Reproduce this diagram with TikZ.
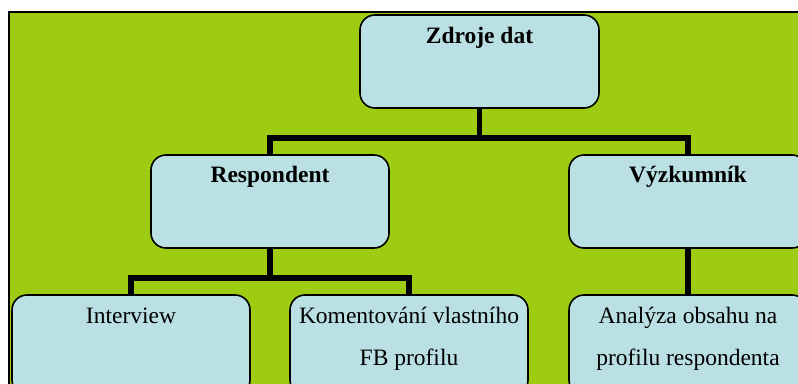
\documentclass[tikz,border=0pt]{standalone}
\usepackage{fontspec}
\setmainfont{Liberation Serif}
\definecolor{bggreen}{RGB}{158,204,18}
\definecolor{boxblue}{RGB}{186,224,228}
\tikzset{
  box/.style={draw=black, line width=1.6pt, fill=boxblue, rounded corners=15pt,
    minimum width=238pt, inner sep=0pt, outer sep=0pt},
  lbl/.style={anchor=base, align=center, inner sep=0pt,
    font=\fontsize{23.5}{42}\selectfont},
  conn/.style={draw=black, line width=5.5pt, line join=miter}
}
\begin{document}
\begin{tikzpicture}[x=1pt, y=-1pt]
\useasboundingbox (0,0) rectangle (798,383);
\clip (0,0) rectangle (798,383);
\fill[white] (0,0) rectangle (798,383);
\draw[line width=2pt, fill=bggreen] (9,12) rectangle (820,400);
% boxes
\node[box, minimum height=93pt, minimum width=239pt, anchor=north west] (zd) at (360,15) {};
\node[box, minimum height=93pt, anchor=north west] (resp) at (151,155) {};
\node[box, minimum height=93pt, anchor=north west] (vyz) at (569,155) {};
\node[box, minimum height=100pt, anchor=north west] (int) at (12,295) {};
\node[box, minimum height=100pt, anchor=north west] (kom) at (290,295) {};
\node[box, minimum height=100pt, anchor=north west] (ana) at (569,295) {};
% connectors
\draw[conn] (zd.south) -- ++(0,30) -| (resp.north);
\draw[conn] (zd.south) -- ++(0,30) -| (vyz.north);
\draw[conn] (resp.south) -- ++(0,30) -| (int.north);
\draw[conn] (resp.south) -- ++(0,30) -| (kom.north);
\draw[conn] (vyz.south) -- (ana.north);
% labels
\node[lbl, font=\fontsize{23.5}{42}\selectfont\bfseries] (tzd) at ([yshift=-28pt]zd.north) {Zdroje dat};
\node[lbl, font=\fontsize{23.5}{42}\selectfont\bfseries] (tresp) at ([yshift=-27pt]resp.north) {Respondent};
\node[lbl, font=\fontsize{23.5}{42}\selectfont\bfseries] (tvyz) at ([yshift=-27pt]vyz.north) {Výzkumník};
\node[lbl] (tint) at ([yshift=-28pt]int.north) {Interview};
\node[lbl] (tkom) at ([yshift=-70pt]kom.north) {Komentování vlastního\\FB profilu};
\node[lbl] (tana) at ([yshift=-70pt]ana.north) {Analýza obsahu na\\profilu respondenta};
\end{tikzpicture}
\end{document}
